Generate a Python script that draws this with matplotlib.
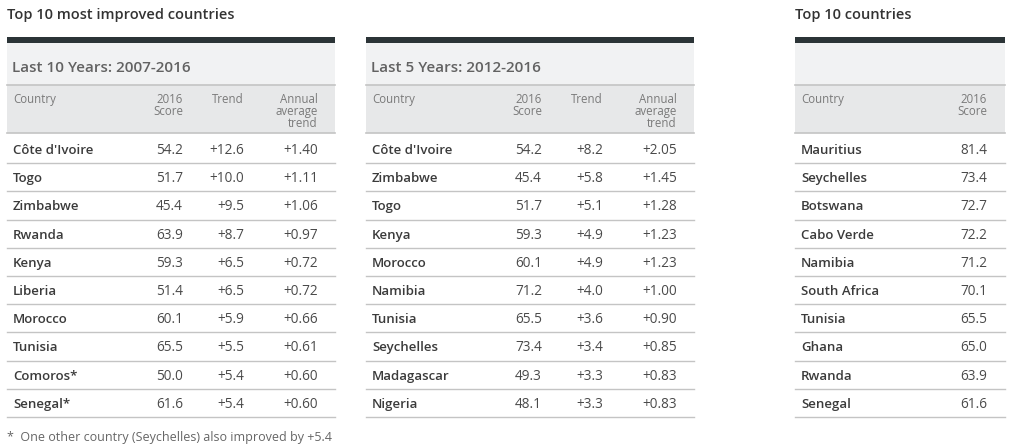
#!/usr/bin/env python3
"""Top 10 most improved countries / top 10 countries, three tables."""
import matplotlib
matplotlib.use("Agg")
import matplotlib.pyplot as plt
from matplotlib.patches import Rectangle

plt.rcParams["font.family"] = ["Open Sans", "DejaVu Sans"]

# Table 1: last 10 years
T1_COUNTRY = ["Côte d'Ivoire", "Togo", "Zimbabwe", "Rwanda", "Kenya",
              "Liberia", "Morocco", "Tunisia", "Comoros*", "Senegal*"]
T1_SCORE = [54.2, 51.7, 45.4, 63.9, 59.3, 51.4, 60.1, 65.5, 50.0, 61.6]
T1_TREND = [12.6, 10.0, 9.5, 8.7, 6.5, 6.5, 5.9, 5.5, 5.4, 5.4]
T1_ANNUAL = [1.40, 1.11, 1.06, 0.97, 0.72, 0.72, 0.66, 0.61, 0.60, 0.60]

# Table 2: last 5 years
T2_COUNTRY = ["Côte d'Ivoire", "Zimbabwe", "Togo", "Kenya", "Morocco",
              "Namibia", "Tunisia", "Seychelles", "Madagascar", "Nigeria"]
T2_SCORE = [54.2, 45.4, 51.7, 59.3, 60.1, 71.2, 65.5, 73.4, 49.3, 48.1]
T2_TREND = [8.2, 5.8, 5.1, 4.9, 4.9, 4.0, 3.6, 3.4, 3.3, 3.3]
T2_ANNUAL = [2.05, 1.45, 1.28, 1.23, 1.23, 1.00, 0.90, 0.85, 0.83, 0.83]

# Table 3: top 10 overall
T3_COUNTRY = ["Mauritius", "Seychelles", "Botswana", "Cabo Verde", "Namibia",
              "South Africa", "Tunisia", "Ghana", "Rwanda", "Senegal"]
T3_SCORE = [81.4, 73.4, 72.7, 72.2, 71.2, 70.1, 65.5, 65.0, 63.9, 61.6]

DARK = "#2b3437"
BAND = "#f1f2f3"
HEAD = "#e7e8e9"
RULE = "#c4c4c4"
TXT = "#3b3b3b"
HTXT = "#7a7a7a"

fig = plt.figure(figsize=(10.19, 4.47), dpi=100)
ax = fig.add_axes([0, 0, 1, 1])
ax.set_xlim(0, 1019)
ax.set_ylim(447, 0)
ax.axis("off")

ROW0 = 149
ROW_H = 28.2


def table(x0, x1, subtitle, countries, cols):
    """cols: list of (header, right x, values, fmt)."""
    ax.add_patch(Rectangle((x0, 37), x1 - x0, 5.5, color=DARK, lw=0))
    ax.add_patch(Rectangle((x0, 42.5), x1 - x0, 42.5, color=BAND, lw=0))
    ax.add_patch(Rectangle((x0, 85), x1 - x0, 48, color=HEAD, lw=0))
    ax.plot([x0, x1], [85, 85], color=RULE, lw=1.2)
    ax.plot([x0, x1], [133, 133], color=RULE, lw=1.2)
    if subtitle:
        ax.text(x0 + 5, 68.5, subtitle, ha="left", va="center", fontsize=11,
                color="#626262", fontweight="semibold")
    ax.text(x0 + 6, 93, "Country", ha="left", va="top", fontsize=8.3,
            color=HTXT, linespacing=0.9)
    for head, xr, vals, fmt in cols:
        ax.text(xr, 93, head, ha="right", va="top", fontsize=8.3,
                color=HTXT, linespacing=0.9, multialignment="right")
    for i, name in enumerate(countries):
        y = ROW0 + i * ROW_H
        ax.text(x0 + 6, y + 1.5, name, ha="left", va="center", fontsize=9.5,
                color=TXT, fontweight="semibold")
        for head, xr, vals, fmt in cols:
            ax.text(xr, y + 1.5, fmt.format(vals[i]), ha="right",
                    va="center", fontsize=9.8, color="#4a4a4a")
        ax.plot([x0, x1], [y + ROW_H / 2, y + ROW_H / 2], color=RULE, lw=1.0)


ax.text(7, 15, "Top 10 most improved countries", ha="left", va="center",
        fontsize=10.5, fontweight="semibold", color="#333333")
ax.text(795, 15, "Top 10 countries", ha="left", va="center",
        fontsize=10.5, fontweight="semibold", color="#333333")

table(7, 335, "Last 10 Years: 2007-2016", T1_COUNTRY, [
    ("2016\nScore", 183, T1_SCORE, "{:.1f}"),
    ("Trend", 244, T1_TREND, "+{:.1f}"),
    ("Annual\naverage\ntrend", 318, T1_ANNUAL, "+{:.2f}"),
])
table(366, 694, "Last 5 Years: 2012-2016", T2_COUNTRY, [
    ("2016\nScore", 542, T2_SCORE, "{:.1f}"),
    ("Trend", 603, T2_TREND, "+{:.1f}"),
    ("Annual\naverage\ntrend", 677, T2_ANNUAL, "+{:.2f}"),
])
table(795, 1005, None, T3_COUNTRY, [
    ("2016\nScore", 987, T3_SCORE, "{:.1f}"),
])

ax.text(7, 438, "*  One other country (Seychelles) also improved by +5.4",
        ha="left", va="center", fontsize=9, color="#666666")

fig.savefig("out.png", dpi=100, facecolor="white")
